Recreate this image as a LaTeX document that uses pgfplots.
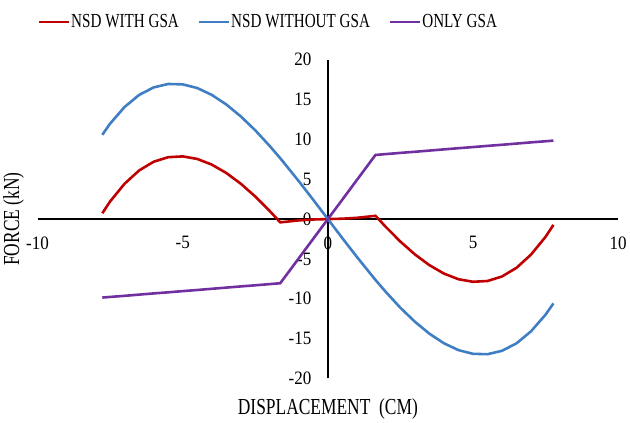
\documentclass[border=0pt]{standalone}
\usepackage{pgfplots}
\pgfplotsset{compat=1.18}
\usepackage{pgfplotstable}
\usepackage{fontspec}
\setmainfont[FakeStretch=0.76]{Liberation Serif}
\newfontfamily\tickfont[FakeStretch=0.9]{Liberation Serif}
\definecolor{cred}{RGB}{192,0,0}
\definecolor{cblue}{RGB}{64,126,196}
\definecolor{cpurple}{RGB}{112,48,160}
\pgfplotstableread{
x red blue purple
-7.77 0.73 10.58 -9.85
-7.5 2.22 11.99 -9.77
-7 4.45 14.08 -9.63
-6.5 6.11 15.59 -9.48
-6 7.20 16.53 -9.33
-5.5 7.77 16.96 -9.19
-5 7.87 16.91 -9.04
-4.5 7.55 16.45 -8.90
-4 6.84 15.59 -8.75
-3.5 5.79 14.39 -8.60
-3 4.44 12.89 -8.45
-2.5 2.83 11.14 -8.31
-2 1.00 9.16 -8.16
-1.64 -0.41 7.64 -8.05
-1 -0.16 4.75 -4.91
-0.5 -0.05 2.40 -2.45
0 0 0 0
0.5 0.05 -2.40 2.45
1 0.16 -4.75 4.91
1.64 0.41 -7.64 8.05
2 -1.00 -9.16 8.16
2.5 -2.83 -11.14 8.31
3 -4.44 -12.89 8.45
3.5 -5.79 -14.39 8.60
4 -6.84 -15.59 8.75
4.5 -7.55 -16.45 8.90
5 -7.87 -16.91 9.04
5.5 -7.77 -16.96 9.19
6 -7.20 -16.53 9.33
6.5 -6.11 -15.59 9.48
7 -4.45 -14.08 9.63
7.5 -2.22 -11.99 9.77
7.77 -0.73 -10.58 9.85
}\data
\begin{document}
\begin{tikzpicture}
\begin{axis}[
 scale only axis, width=583pt, height=320pt,
 xmin=-10, xmax=10, ymin=-20, ymax=20,
 axis lines=middle, axis line style={-, black, line width=1.3pt},
 clip=false,
 xtick={-10,-5,0,5,10}, ytick={-20,-15,-10,-5,0,5,10,15,20},
 major tick length=0pt,
 hide obscured x ticks=false, hide obscured y ticks=false,
 /pgf/number format/assume math mode=true,
 tick label style={font=\tickfont\fontsize{19}{22}\selectfont},
 xticklabel style={anchor=north, yshift=-14pt},
 yticklabel style={anchor=east, xshift=-13pt},
 xlabel={DISPLACEMENT\ \ (CM)}, ylabel={FORCE (kN)},
 label style={font=\fontsize{23}{26}\selectfont},
 xlabel style={at={(axis description cs:0.5,0)}, anchor=north, yshift=-17pt},
 ylabel style={at={(axis description cs:0,0.5)}, rotate=90, anchor=south, yshift=10pt},
 legend style={at={(0,1)}, anchor=west, yshift=38pt, draw=none, fill=none,
   font=\fontsize{20}{24}\selectfont, legend columns=3,
   /tikz/every even column/.append style={column sep=18pt},
   inner sep=0pt, nodes={inner sep=1pt}},
 legend image code/.code={\draw[#1] (0pt,0pt) -- (30pt,0pt);},
]
\addplot[cred, line width=2.6pt, no marks] table[x=x,y=red]{\data};
\addlegendentry{NSD WITH GSA}
\addplot[cblue, line width=2.6pt, no marks] table[x=x,y=blue]{\data};
\addlegendentry{NSD WITHOUT GSA}
\addplot[cpurple, line width=2.6pt, no marks] table[x=x,y=purple]{\data};
\addlegendentry{ONLY GSA}
\path (rel axis cs:0,0) ++(-37pt,-36pt) rectangle ++(630pt,416pt);
\end{axis}
\end{tikzpicture}
\end{document}
